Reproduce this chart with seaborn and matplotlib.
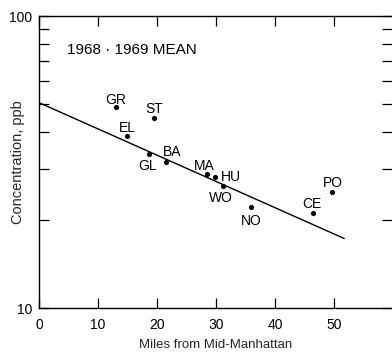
import matplotlib
matplotlib.use("Agg")
import matplotlib.pyplot as plt
import matplotlib.ticker as mticker
import pandas as pd
import seaborn as sns

# Station readings, 1968-1969 mean
stations = ["GR", "ST", "EL", "GL", "BA", "MA", "HU", "WO", "NO", "CE", "PO"]
miles = [13.05, 19.5, 14.9, 18.6, 21.5, 28.4, 29.8, 31.1, 35.9, 46.4, 49.7]
conc_ppb = [48.8, 44.7, 38.8, 33.8, 31.6, 28.8, 28.2, 26.2, 22.1, 21.1, 24.9]

# Fitted trend line end points
trend_miles = [0.0, 51.7]
trend_ppb = [50.5, 17.3]

x_ticks = [0, 10, 20, 30, 40, 50]

# label offsets in pixels (dx, dy to baseline) and horizontal alignment
label_pos = {
    "GR": (0, 3, "center"),
    "ST": (0, 5, "center"),
    "EL": (0, 4, "center"),
    "GL": (-1.5, -16, "center"),
    "BA": (6, 6, "center"),
    "MA": (-2, 4, "center"),
    "HU": (6, -4, "left"),
    "WO": (-1.5, -16, "center"),
    "NO": (0, -18, "center"),
    "CE": (-1.5, 5, "center"),
    "PO": (0.5, 5, "center"),
}

sns.set_style("ticks")
plt.rcParams["font.family"] = ["Liberation Sans", "DejaVu Sans"]

df = pd.DataFrame({"station": stations, "miles": miles, "ppb": conc_ppb})

fig = plt.figure(figsize=(3.92, 3.53), dpi=100)
ax = fig.add_axes([39 / 392, 45 / 353, 1 - 39 / 392, 292 / 353])

ax.set_yscale("log")
sns.lineplot(x=trend_miles, y=trend_ppb, ax=ax, color="black", linewidth=1.0)
sns.scatterplot(data=df, x="miles", y="ppb", ax=ax, color="black", s=14,
                edgecolor="black", linewidth=0, zorder=3)

for name, mx, cy in zip(stations, miles, conc_ppb):
    dx, dy, ha = label_pos[name]
    ax.annotate(name, (mx, cy), xytext=(dx, dy), textcoords="offset pixels",
                ha=ha, va="baseline", fontsize=10, color="black")

ax.text(4.8, 76.5, "1968 · 1969 MEAN", fontsize=11, color="black",
        ha="left", va="center")

ax.set_xlim(0, 59.8)
ax.set_ylim(10, 100)
ax.set_xticks(x_ticks)
ax.set_xticklabels([str(t) for t in x_ticks])
ax.yaxis.set_major_locator(mticker.FixedLocator([10, 100]))
ax.yaxis.set_major_formatter(mticker.FixedFormatter(["10", "100"]))
ax.yaxis.set_minor_locator(mticker.FixedLocator([20, 30, 40, 50, 60, 70, 80, 90]))
ax.yaxis.set_minor_formatter(mticker.NullFormatter())

ax.tick_params(axis="both", which="both", direction="in", length=7.5,
               width=0.9, color="black", labelsize=10,
               top=True, right=True, labelcolor="black")
ax.tick_params(axis="x", pad=7)
ax.tick_params(axis="y", pad=5)

for side in ["left", "bottom", "top"]:
    ax.spines[side].set_color("black")
    ax.spines[side].set_linewidth(1.0)
ax.spines["right"].set_visible(False)

ax.set_xlabel("Miles from Mid-Manhattan", fontsize=9.5)
ax.xaxis.set_label_coords(0.5, -37 / 292)
ax.xaxis.label.set_va("center")
ax.set_ylabel("Concentration, ppb", fontsize=10.5)
ax.yaxis.set_label_coords(-14 / 353, 0.5)

fig.savefig("out.png", dpi=100)
